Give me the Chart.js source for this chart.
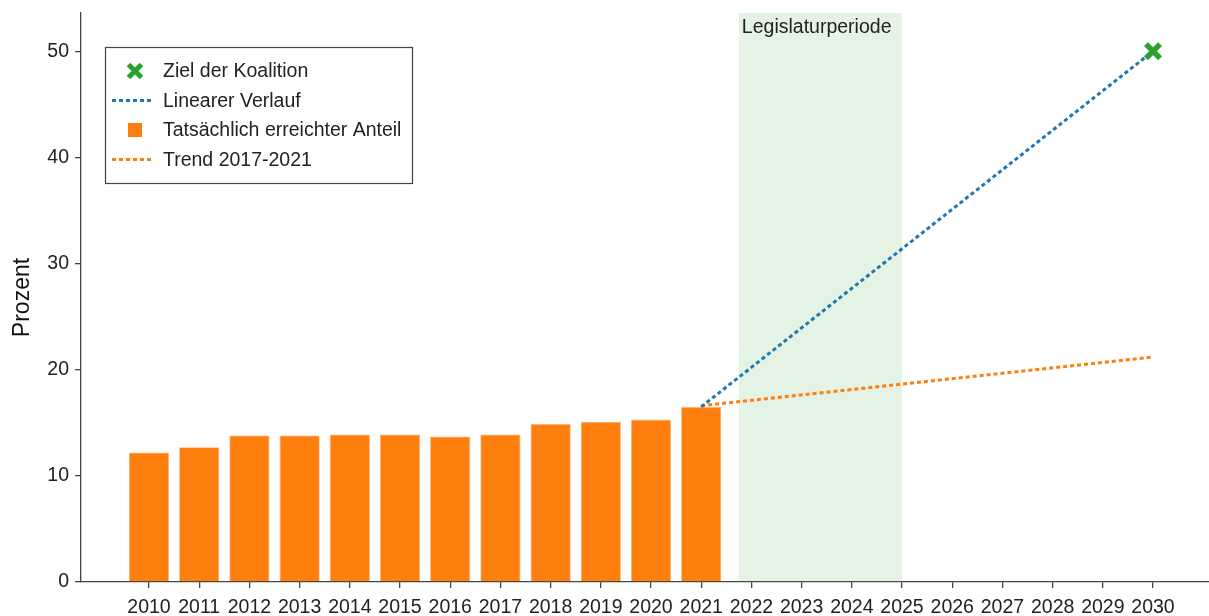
<!DOCTYPE html>
<html>
<head>
<meta charset="utf-8">
<script src="https://cdn.jsdelivr.net/npm/chart.js@4/dist/chart.umd.min.js"></script>
<style>
  body { margin: 0; background: #fff; }
  #wrap { width: 1209px; height: 616px; }
</style>
</head>
<body>
<div id="wrap"><canvas id="chart" width="1209" height="616"></canvas></div>
<script>
// tick years on the x axis
const years = [2010,2011,2012,2013,2014,2015,2016,2017,2018,2019,2020,2021,2022,2023,2024,2025,2026,2027,2028,2029,2030];
const yTicks = [0, 10, 20, 30, 40, 50];

// actual share per year (bars)
const barYears = [2010,2011,2012,2013,2014,2015,2016,2017,2018,2019,2020,2021];
const barValues = [12.2, 12.7, 13.8, 13.8, 13.9, 13.9, 13.7, 13.9, 14.9, 15.1, 15.3, 16.5];

// linear path to the target
const linYears = [2021, 2030];
const linValues = [16.5, 50];

// trend 2017-2021 extrapolated
const trendYears = [2021, 2030];
const trendValues = [16.6, 21.2];

// coalition target
const goalYears = [2030];
const goalValues = [50];

// legislative period shading
const periodStart = 2021.75;
const periodEnd = 2025;
const periodLabel = 'Legislaturperiode';

const FONT = 'Liberation Sans, Arial, sans-serif';
const FS = 19.5;
const ORANGE = '#ff7f0e', BLUE = '#1f77b4', GREEN = '#2ca02c';

const pts = (xs, ys) => xs.map((x, i) => ({ x: x, y: ys[i] }));

const periodPlugin = {
  id: 'period',
  beforeDatasetsDraw(chart) {
    const { ctx, chartArea, scales } = chart;
    const x0 = scales.x.getPixelForValue(periodStart);
    const x1 = scales.x.getPixelForValue(periodEnd);
    ctx.save();
    ctx.fillStyle = 'rgba(44,160,44,0.13)';
    ctx.fillRect(x0, chartArea.top, x1 - x0, chartArea.bottom - chartArea.top);
    ctx.fillStyle = '#222';
    ctx.font = FS + 'px ' + FONT;
    ctx.textBaseline = 'top';
    ctx.fillText(periodLabel, x0 + 3, chartArea.top + 5);
    ctx.restore();
  }
};

// legend box drawn inside the plot, upper left
const boxLegend = {
  id: 'boxLegend',
  afterDraw(chart) {
    const { ctx, chartArea } = chart;
    const ds = chart.data.datasets;
    const order = [3, 1, 0, 2]; // goal, linear, bars, trend
    const left = chartArea.left + 24, top = chartArea.top + 34;
    const w = 307, h = 136, rowH = 29.5;
    ctx.save();
    ctx.fillStyle = '#fff';
    ctx.fillRect(left, top, w, h);
    ctx.strokeStyle = '#444';
    ctx.lineWidth = 1.2;
    ctx.strokeRect(left + 0.5, top + 0.5, w, h);
    ctx.font = FS + 'px ' + FONT;
    ctx.textBaseline = 'middle';
    order.forEach((di, i) => {
      const d = ds[di];
      const cy = top + 24 + i * rowH;
      const cx = left + 30;
      if (di === 3) {
        ctx.strokeStyle = GREEN;
        ctx.lineWidth = 5;
        const r = 6.5;
        ctx.beginPath();
        ctx.moveTo(cx - r, cy - r); ctx.lineTo(cx + r, cy + r);
        ctx.moveTo(cx + r, cy - r); ctx.lineTo(cx - r, cy + r);
        ctx.stroke();
      } else if (di === 0) {
        ctx.fillStyle = ORANGE;
        ctx.fillRect(cx - 7, cy - 7, 14, 14);
      } else {
        ctx.strokeStyle = d.borderColor;
        ctx.lineWidth = 3;
        ctx.setLineDash([4, 3]);
        ctx.beginPath();
        ctx.moveTo(left + 7, cy); ctx.lineTo(left + 46, cy);
        ctx.stroke();
        ctx.setLineDash([]);
      }
      ctx.fillStyle = '#222';
      ctx.fillText(d.label, left + 58, cy + 1);
    });
    ctx.restore();
  }
};

new Chart(document.getElementById('chart'), {
  type: 'bar',
  data: {
    datasets: [
      {
        type: 'bar', label: 'Tatsächlich erreichter Anteil',
        data: pts(barYears, barValues),
        backgroundColor: ORANGE, borderColor: '#ffb27a', borderWidth: 0.8,
        barPercentage: 0.8, categoryPercentage: 1, order: 3
      },
      {
        type: 'line', label: 'Linearer Verlauf',
        data: pts(linYears, linValues),
        borderColor: BLUE, borderWidth: 3, borderDash: [4, 3],
        pointRadius: 0, fill: false, order: 1
      },
      {
        type: 'line', label: 'Trend 2017-2021',
        data: pts(trendYears, trendValues),
        borderColor: ORANGE, borderWidth: 3, borderDash: [4, 3],
        pointRadius: 0, fill: false, order: 1
      },
      {
        type: 'line', label: 'Ziel der Koalition',
        data: pts(goalYears, goalValues),
        showLine: false, pointStyle: 'crossRot', pointRadius: 10,
        pointBorderWidth: 5.5, borderColor: GREEN, backgroundColor: GREEN, order: 0
      }
    ]
  },
  options: {
    responsive: false,
    animation: false,
    devicePixelRatio: 1,
    layout: { autoPadding: false, padding: { top: 13, right: 0, bottom: 0, left: 0 } },
    plugins: { legend: { display: false }, tooltip: { enabled: false } },
    scales: {
      x: {
        type: 'linear', offset: false,
        min: 2008.645, max: 2031.115,
        afterBuildTicks: s => { s.ticks = years.map(v => ({ value: v })); },
        afterFit: s => { s.paddingLeft = 0; s.paddingRight = 0; s.height = 34; },
        ticks: {
          callback: v => String(v), autoSkip: false, maxRotation: 0,
          color: '#222', font: { family: FONT, size: FS }, padding: 8
        },
        grid: { offset: false, drawOnChartArea: false, tickLength: 6, color: '#444', lineWidth: 1.3 },
        border: { color: '#444', width: 1.3 }
      },
      y: {
        min: 0, max: 53.6,
        afterBuildTicks: s => { s.ticks = yTicks.map(v => ({ value: v })); },
        afterFit: s => { s.width = 81; s.paddingTop = 0; s.paddingBottom = 0; },
        ticks: { color: '#222', font: { family: FONT, size: FS }, padding: 6 },
        grid: { drawOnChartArea: false, tickLength: 6, color: '#444', lineWidth: 1.3 },
        border: { color: '#444', width: 1.3 },
        title: {
          display: true, text: 'Prozent', color: '#111',
          font: { family: FONT, size: 23 }, padding: { top: 9, bottom: 0 }
        }
      }
    }
  },
  plugins: [periodPlugin, boxLegend]
});
</script>
</body>
</html>
